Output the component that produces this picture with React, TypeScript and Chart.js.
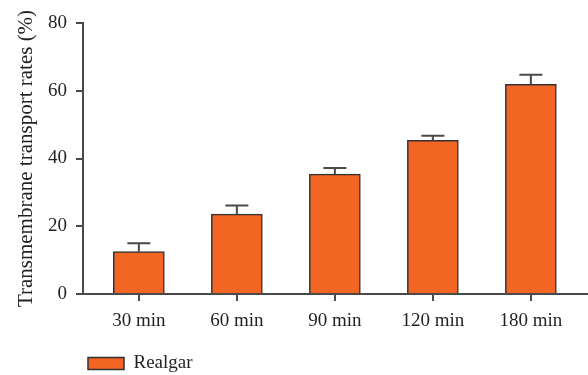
import React, { useEffect, useRef } from "react";
import { Chart, registerables } from "chart.js";

Chart.register(...registerables);

const categories = ["30 min", "60 min", "90 min", "120 min", "180 min"];
const values = [12.5, 23.6, 35.4, 45.4, 61.9];
const errors = [2.5, 2.5, 1.8, 1.3, 2.8];
const yTicks = [0, 20, 40, 60, 80];
const seriesName = "Realgar";

const FONT = "'Liberation Serif', 'Times New Roman', serif";
const INK = "#231f20";
const AXIS = "#4a4a4a";

const errorBarPlugin = {
  id: "errorBars",
  afterDatasetsDraw(chart: any) {
    const meta = chart.getDatasetMeta(0);
    const yScale = chart.scales.y;
    const ctx = chart.ctx;
    ctx.save();
    ctx.strokeStyle = AXIS;
    ctx.lineWidth = 2;
    meta.data.forEach((el: any, i: number) => {
      const x = el.x;
      const yTop = yScale.getPixelForValue(values[i] + errors[i]);
      const yBar = yScale.getPixelForValue(values[i]);
      ctx.beginPath();
      ctx.moveTo(x, yBar);
      ctx.lineTo(x, yTop);
      ctx.moveTo(x - 11.5, yTop);
      ctx.lineTo(x + 11.5, yTop);
      ctx.stroke();
    });
    ctx.restore();
  },
};

export default function App() {
  const ref = useRef<HTMLCanvasElement>(null);
  useEffect(() => {
    document.body.style.margin = "0";
    const chart = new Chart(ref.current!, {
      type: "bar",
      data: {
        datasets: [
          {
            label: seriesName,
            data: values.map((v, i) => ({ x: i + 1, y: v })),
            backgroundColor: "#f26522",
            borderColor: "#333333",
            borderWidth: 1.5,
            barThickness: 51,
          },
        ],
      },
      options: {
        animation: false,
        responsive: false,
        maintainAspectRatio: false,
        layout: { padding: { top: 23, left: 0, right: 0, bottom: -8 } },
        plugins: {
          tooltip: { enabled: false },
          legend: {
            position: "bottom",
            align: "start",
            fullSize: false,
            labels: {
              boxWidth: 36,
              boxHeight: 12,
              color: INK,
              font: { family: FONT, size: 19 },
              padding: 5,
            },
          },
        },
        scales: {
          x: {
            type: "linear",
            offset: false,
            min: 0.43,
            max: 5.583,
            afterBuildTicks: (axis: any) => {
              axis.ticks = categories.map((_, i) => ({ value: i + 1 }));
            },
            afterFit: (s: any) => {
              s.height = 55;
            },
            grid: {
              display: true,
              offset: false,
              drawOnChartArea: false,
              drawTicks: true,
              tickLength: 7,
              color: AXIS,
              lineWidth: 2,
            },
            border: { display: true, color: AXIS, width: 2 },
            ticks: {
              color: INK,
              font: { family: FONT, size: 19 },
              padding: 9,
              maxRotation: 0,
              autoSkip: false,
              callback: (v: any) => categories[Number(v) - 1] ?? "",
            },
          },
          y: {
            min: 0,
            max: 80,
            afterBuildTicks: (axis: any) => {
              axis.ticks = yTicks.map((v) => ({ value: v }));
            },
            afterFit: (s: any) => {
              s.width = 83;
            },
            grid: {
              display: true,
              drawOnChartArea: false,
              drawTicks: true,
              tickLength: 7,
              color: AXIS,
              lineWidth: 2,
            },
            border: { display: true, color: AXIS, width: 2 },
            ticks: {
              color: INK,
              font: { family: FONT, size: 19 },
              padding: 9,
            },
            title: {
              display: true,
              text: "Transmembrane transport rates (%)",
              color: INK,
              font: { family: FONT, size: 21 },
              padding: { top: 14, bottom: 0 },
            },
          },
        },
      },
      plugins: [errorBarPlugin],
    });
    return () => chart.destroy();
  }, []);
  return (
    <div style={{ width: 588, height: 375 }}>
      <canvas ref={ref} width={588} height={375} />
    </div>
  );
}
